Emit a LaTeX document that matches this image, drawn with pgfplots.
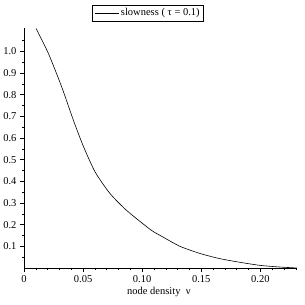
\documentclass[border=0pt]{standalone}
\usepackage{fontspec}
\setmainfont{Liberation Serif}
\usepackage{pgfplots}
\pgfplotsset{compat=1.18}
\begin{document}
\begin{tikzpicture}
\useasboundingbox (-24pt,-37pt) rectangle (281pt,268pt);
\begin{axis}[
  at={(0,0)}, anchor=south west,
  scale only axis, width=273pt, height=240pt,
  axis lines=left, axis line style={-, line width=0.6pt},
  xmin=0, xmax=0.231, ymin=0, ymax=1.108,
  xtick={0,0.05,0.1,0.15,0.2}, xticklabels={0,0.05,0.10,0.15,0.20},
  ytick={0.1,0.2,0.3,0.4,0.5,0.6,0.7,0.8,0.9,1.0},
  yticklabels={0.1,0.2,0.3,0.4,0.5,0.6,0.7,0.8,0.9,1.0},
  minor xtick={0.01,0.02,0.03,0.04,0.06,0.07,0.08,0.09,0.11,0.12,0.13,0.14,0.16,0.17,0.18,0.19,0.21,0.22,0.23},
  minor ytick={0.05,0.15,0.25,0.35,0.45,0.55,0.65,0.75,0.85,0.95,1.05},
  tick align=outside, major tick length=4pt, minor tick length=2.2pt,
  tick style={black, line width=0.5pt},
  ticklabel style={font=\fontsize{10.5}{12}\selectfont},
  /pgf/number format/assume math mode=true,
  xlabel={node density\ \ ν},
  xlabel style={at={(axis description cs:0.494,-0.1)}, anchor=center, font=\fontsize{10.5}{12}\selectfont},
  legend style={at={(axis description cs:0.454,1.0625)}, anchor=center, draw=black, line width=0.6pt,
    font=\fontsize{10.5}{12}\selectfont, inner sep=1.8pt},
  legend image code/.code={\draw[#1] (0cm,0cm) -- (0.85cm,0cm);},
]
\addplot[black, line width=0.6pt, smooth, tension=0.4] coordinates {
(0.0102,1.106)
(0.0206,0.991)
(0.0319,0.836)
(0.0418,0.682)
(0.0500,0.565)
(0.0602,0.443)
(0.0729,0.343)
(0.087,0.265)
(0.1068,0.178)
(0.1153,0.150)
(0.132,0.100)
(0.149,0.067)
(0.165,0.044)
(0.183,0.026)
(0.2,0.012)
(0.215,0.005)
(0.231,0.0)
};
\addlegendentry{slowness ( τ = 0.1)}
\end{axis}
\end{tikzpicture}
\end{document}
